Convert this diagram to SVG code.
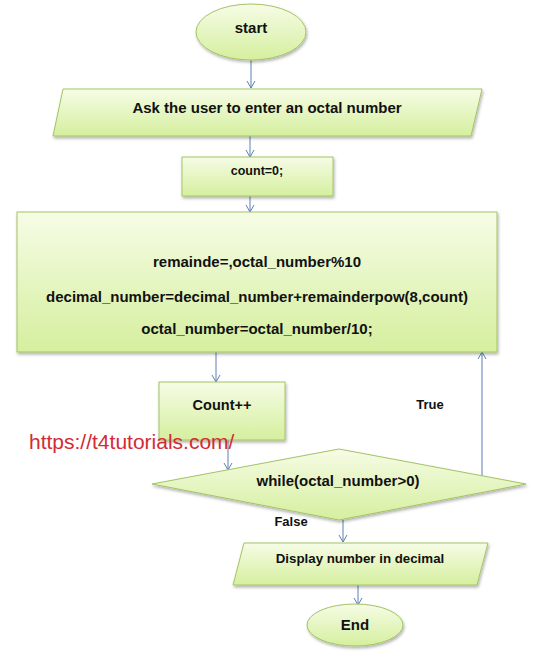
<svg xmlns="http://www.w3.org/2000/svg" width="534" height="667" viewBox="0 0 534 667">
<defs>
<linearGradient id="g" x1="0" y1="0" x2="0" y2="1">
<stop offset="0" stop-color="#f6fce6"/>
<stop offset="1" stop-color="#d5ef9e"/>
</linearGradient>
<filter id="sh" x="-10%" y="-10%" width="130%" height="140%">
<feDropShadow dx="1" dy="2" stdDeviation="1.5" flood-color="#000" flood-opacity="0.3"/>
</filter>
<marker id="arr" markerWidth="10" markerHeight="10" refX="8" refY="5" orient="auto" markerUnits="userSpaceOnUse">
<path d="M1,1 L8,5 L1,9" fill="none" stroke="#5b7fb4" stroke-width="1"/>
</marker>
<style>
.sh{fill:url(#g);stroke:#a3c464;stroke-width:1;filter:url(#sh)}
.t{font-family:"Liberation Sans",Arial,sans-serif;font-weight:bold;fill:#111;text-anchor:middle}
.c{fill:none;stroke:#5b7fb4;stroke-width:1;marker-end:url(#arr)}
</style>
</defs>
<rect width="534" height="667" fill="#fff"/>
<g id="connectors">
<line class="c" x1="251" y1="60" x2="251" y2="88"/>
<line class="c" x1="250" y1="136" x2="250" y2="157"/>
<line class="c" x1="250" y1="196" x2="250" y2="212"/>
<line class="c" x1="216" y1="352" x2="216" y2="382"/>
<line class="c" x1="228" y1="440" x2="228" y2="470"/>
<line class="c" x1="482" y1="478" x2="482" y2="352"/>
<line class="c" x1="343" y1="520" x2="343" y2="542"/>
<line class="c" x1="358" y1="585" x2="358" y2="605"/>
</g>
<g id="start">
<ellipse class="sh" cx="251" cy="32" rx="55" ry="28"/>
<text class="t" x="251" y="33" font-size="15">start</text>
</g>
<g id="input">
<polygon class="sh" points="63,89 482,89 471,136 53,136"/>
<text class="t" x="267" y="113" font-size="15">Ask the user to enter an octal number</text>
</g>
<g id="init">
<rect class="sh" x="182" y="157" width="151" height="39"/>
<text class="t" x="257" y="175" font-size="12.5">count=0;</text>
</g>
<g id="body">
<rect class="sh" x="17" y="212" width="480" height="140"/>
<text class="t" x="257" y="267" font-size="15">remainde=,octal_number%10</text>
<text class="t" x="257" y="302" font-size="15">decimal_number=decimal_number+remainderpow(8,count)</text>
<text class="t" x="257" y="334" font-size="15">octal_number=octal_number/10;</text>
</g>
<g id="inc">
<rect class="sh" x="159" y="382" width="126" height="58"/>
<text class="t" x="222" y="410" font-size="14.5">Count++</text>
</g>
<g id="cond">
<polygon class="sh" points="152,484 339,449 526,484 339,520"/>
<text class="t" x="338" y="486" font-size="15">while(octal_number&gt;0)</text>
</g>
<g id="labels">
<text class="t" x="430" y="409" font-size="13">True</text>
<text class="t" x="291" y="526" font-size="13">False</text>
</g>
<g id="output">
<polygon class="sh" points="244,543 488,543 477,585 233,585"/>
<text class="t" x="360" y="563" font-size="13.3">Display number in decimal</text>
</g>
<g id="end">
<ellipse class="sh" cx="355" cy="625" rx="48" ry="21"/>
<text class="t" x="355" y="630" font-size="15">End</text>
</g>
<text x="29" y="449" font-family="'Liberation Sans',Arial,sans-serif" font-size="21" fill="#d42a33">https://t4tutorials.com/</text>
</svg>
